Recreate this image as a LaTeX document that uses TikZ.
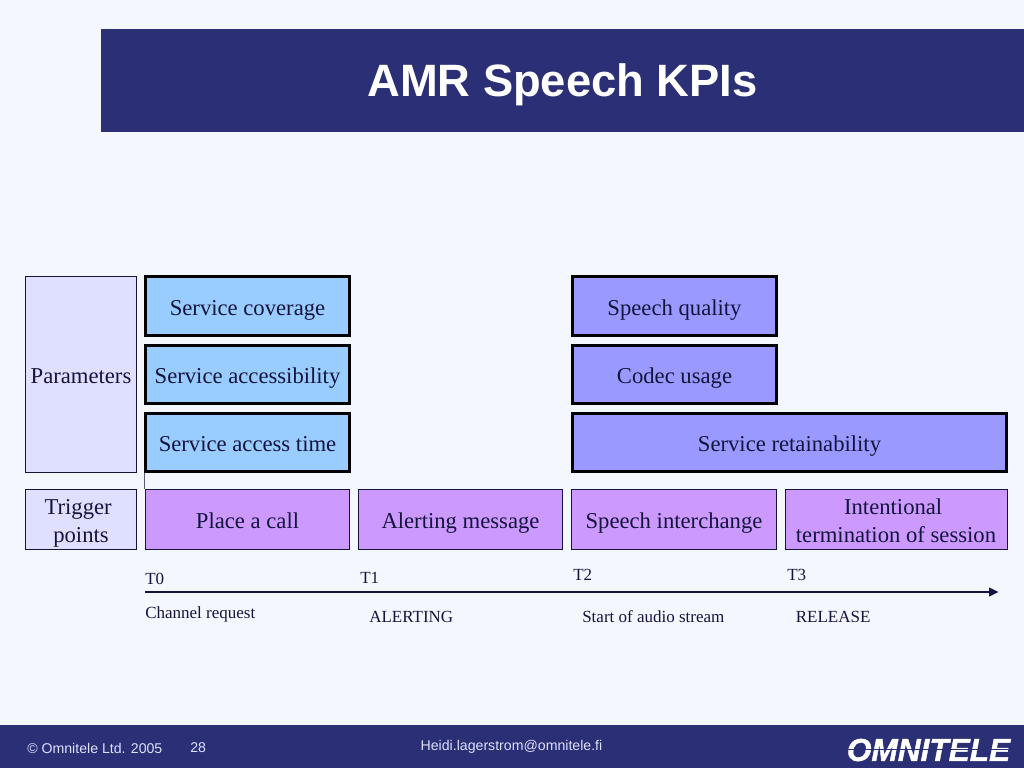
\documentclass[tikz,border=0pt]{standalone}
\usepackage{fontspec}
\setmainfont{Liberation Serif}
\newfontfamily\sansf{Liberation Sans}
\newfontfamily\logof[FakeBold=1.2,ItalicFont={Liberation Sans Bold Italic}]{Liberation Sans Bold}
\usetikzlibrary{arrows.meta}
\definecolor{bgc}{HTML}{F5F7FF}
\definecolor{navy}{HTML}{2B2F75}
\definecolor{lblue}{HTML}{99CCFF}
\definecolor{peri}{HTML}{9999FF}
\definecolor{purp}{HTML}{CC99FF}
\definecolor{lav}{HTML}{DFE0FF}
\definecolor{ink}{HTML}{14143C}
\tikzset{
  x=0.75pt,y=-0.75pt,
  boxbase/.style={rectangle,inner sep=0pt,align=center,text=ink,font=\fontsize{17}{21}\selectfont},
  oneline/.style={text height=14.5pt,text depth=1pt},
  twoline/.style={text height=36pt,text depth=2pt},
  param/.style={boxbase,oneline,draw=black,line width=2.2pt,minimum height=44pt,minimum width=153pt},
  bluebox/.style={param,fill=lblue},
  perobox/.style={param,fill=peri},
  trig/.style={boxbase,draw=ink,line width=0.75pt,fill=purp,minimum width=153.5pt,minimum height=45pt},
  side/.style={boxbase,draw=ink,line width=0.75pt,fill=lav,minimum width=83pt},
  small/.style={inner sep=0pt,anchor=west,text=ink,font=\fontsize{12.75}{15}\selectfont},
  foot/.style={inner sep=0pt,text=lav,font=\sansf\fontsize{10.6}{13}\selectfont},
}
\begin{document}
\begin{tikzpicture}
\useasboundingbox (0,0) rectangle (1024,768);
\fill[bgc] (0,0) rectangle (1024,768);
\node[fill=navy,inner sep=0pt,minimum width=692.25pt,minimum height=77pt,anchor=north west] (band) at (101,29) {};
\node[inner sep=0pt,text=white,font=\sansf\bfseries\fontsize{34}{40}\selectfont] (title) at (562.5,85) {AMR Speech KPIs};
\node[fill=navy,inner sep=0pt,minimum width=768pt,minimum height=32.25pt,anchor=north west] (footer) at (0,725) {};

\node[side,oneline,minimum height=147pt] (params) at (81,374.5) {Parameters};
\node[side,twoline,minimum height=45pt] (points) at (81,519.5) {\mbox{Trigger\kern4.25pt}\\points};

\node[bluebox] (cover) at (247.5,306) {Service coverage};
\node[bluebox] (access) at (247.5,374.5) {Service accessibility};
\node[bluebox] (atime) at (247.5,442.5) {Service access time};
\node[perobox] (quality) at (674.5,306) {Speech quality};
\node[perobox] (codec) at (674.5,374.5) {Codec usage};
\node[perobox,minimum width=325.5pt] (retain) at (789.5,442.5) {Service retainability};

\node[trig,oneline] (call) at (247.5,519.5) {Place a call};
\node[trig,oneline] (alert) at (460.5,519.5) {Alerting message};
\node[trig,oneline] (speech) at (674,519.5) {Speech interchange};
\node[trig,twoline,minimum width=166.5pt] (term) at (896,519.5) {\mbox{Intentional\kern4.25pt}\\termination of session};

\draw[draw=ink!70,line width=0.75pt] (call.north west |- atime.south) -- (call.north west);

\coordinate (tstart) at (145,592);
\coordinate (tend) at (998.5,592);
\draw[draw=ink,line width=1pt,-{Triangle[length=7pt,width=6.5pt]}] (tstart) -- (tend);

\node[small] (t0) at (145,579) {T0};
\node[small] (t1) at (360,578) {T1};
\node[small] (t2) at (573,574.5) {T2};
\node[small] (t3) at (787,574.5) {T3};
\node[small] (l0) at (145,614) {Channel request};
\node[small] (l1) at (369,617) {ALERTING};
\node[small] (l2) at (582,617) {Start of audio stream};
\node[small] (l3) at (795.5,617) {RELEASE};

\node[foot,anchor=west] (copy) at (27,748) {© Omnitele Ltd. 2005};
\node[foot,anchor=west] (page) at (190,748) {28};
\node[foot,anchor=center] (mail) at (511.5,747) {Heidi.lagerstrom@omnitele.fi};
\node[inner sep=0pt,text=white,anchor=center,font=\logof\itshape\fontsize{23.7}{26}\selectfont] (logo) at (928.5,750) {OMNITELE};
\fill[navy] (845,749.4) rectangle (1012,750.4);
\end{tikzpicture}
\end{document}
